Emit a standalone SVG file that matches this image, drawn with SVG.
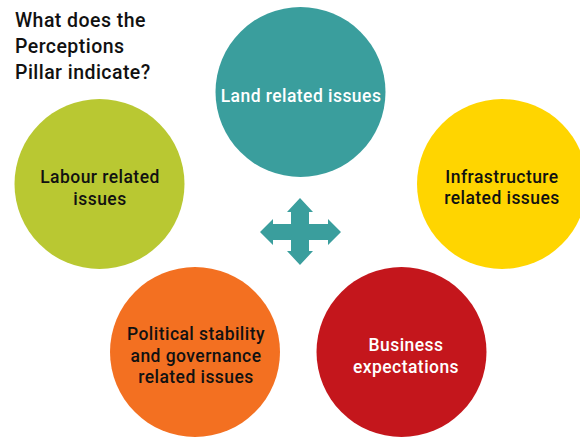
<svg xmlns="http://www.w3.org/2000/svg" width="580" height="438" viewBox="0 0 580 438">
<style>
text{font-family:Roboto,"Liberation Sans",sans-serif;font-weight:500;text-anchor:middle;letter-spacing:0.45px}
.t{font-size:17.5px}
.w{fill:#ffffff}
.k{fill:#111111}
.title{font-size:19.5px;text-anchor:start;fill:#111111}
</style>
<rect width="580" height="438" fill="#ffffff"/>
<g id="title">
<text class="title" x="15" y="27">What does the</text>
<text class="title" x="15" y="53">Perceptions</text>
<text class="title" x="15" y="79">Pillar indicate?</text>
</g>
<g id="connectors">
<polygon fill="#3A9E9D" points="300,198 313,212 309,212 309,224 328,224 328,219 341,232 328,245 328,240 309,240 309,251 313,251 300,265 287,251 291,251 291,240 273,240 273,245 260,232 273,219 273,224 291,224 291,212 287,212"/>
</g>
<g id="land">
<circle cx="300.5" cy="92" r="85" fill="#3A9E9D"/>
<text class="t w" x="301" y="102">Land related issues</text>
</g>
<g id="labour">
<circle cx="99.5" cy="184" r="85" fill="#B9C832"/>
<text class="t k" x="100" y="183">Labour related</text>
<text class="t k" x="100" y="205">issues</text>
</g>
<g id="infrastructure">
<circle cx="502" cy="184" r="85" fill="#FFD500"/>
<text class="t k" x="502" y="183">Infrastructure</text>
<text class="t k" x="502" y="204">related issues</text>
</g>
<g id="political">
<circle cx="195" cy="352" r="85" fill="#F37021"/>
<text class="t k" x="196" y="340">Political stability</text>
<text class="t k" x="196" y="362">and governance</text>
<text class="t k" x="196" y="383">related issues</text>
</g>
<g id="business">
<circle cx="401.5" cy="352" r="85" fill="#C4161C"/>
<text class="t w" x="406" y="351">Business</text>
<text class="t w" x="406" y="373">expectations</text>
</g>
</svg>
